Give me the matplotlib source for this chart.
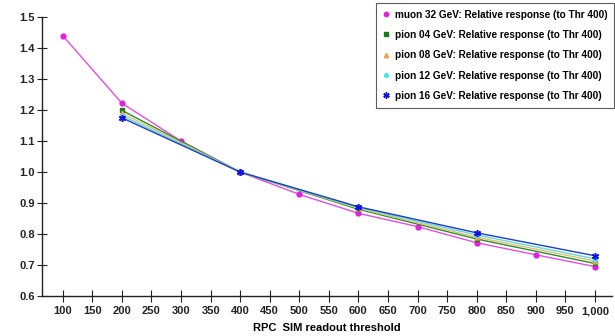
import matplotlib
matplotlib.use("Agg")
import matplotlib.pyplot as plt
from matplotlib.ticker import FuncFormatter, MultipleLocator

plt.rcParams['font.family'] = ['Liberation Sans', 'DejaVu Sans']
plt.rcParams['font.weight'] = 'bold'

muon_x = [100, 200, 300, 400, 500, 600, 700, 800, 900, 1000]
muon_y = [1.44, 1.222, 1.10, 1.0, 0.928, 0.867, 0.824, 0.772, 0.733, 0.695]
pion_x = [200, 400, 600, 800, 1000]
pion04_y = [1.199, 1.0, 0.880, 0.784, 0.705]
pion08_y = [1.190, 1.0, 0.883, 0.790, 0.713]
pion12_y = [1.182, 1.0, 0.886, 0.797, 0.720]
pion16_y = [1.175, 1.0, 0.888, 0.804, 0.730]

labels = ["muon 32 GeV: Relative response (to Thr 400)",
          "pion 04 GeV: Relative response (to Thr 400)",
          "pion 08 GeV: Relative response (to Thr 400)",
          "pion 12 GeV: Relative response (to Thr 400)",
          "pion 16 GeV: Relative response (to Thr 400)"]

fig = plt.figure(figsize=(6.15, 3.36), dpi=100)
ax = fig.add_axes([0.068, 0.119, 0.927, 0.830])

ax.plot(muon_x, muon_y, color='#e050e0', marker='o', ms=3.5, lw=1.0,
        markerfacecolor='#e020e0', markeredgecolor='#e020e0', label=labels[0])
ax.plot(pion_x, pion04_y, color='#2e8b2e', marker='s', ms=3.5, lw=1.0,
        markerfacecolor='#1a7a1a', markeredgecolor='#1a7a1a', label=labels[1])
ax.plot(pion_x, pion08_y, color='#e0c070', marker='^', ms=3.5, lw=1.0,
        markerfacecolor='#f0a050', markeredgecolor='#f0a050', label=labels[2])
ax.plot(pion_x, pion12_y, color='#60d8e8', marker='o', ms=3, lw=1.0,
        markerfacecolor='#40e8f0', markeredgecolor='#40e8f0', label=labels[3])
ax.plot(pion_x, pion16_y, color='#2040c0', marker=(6, 2, 0), ms=5, lw=1.0,
        markeredgecolor='#1010e0', markeredgewidth=1.1, label=labels[4])

ax.set_xlim(64.5, 1028.8)
ax.set_ylim(0.6, 1.5)
ax.set_xticks(range(100, 1001, 50))
ax.yaxis.set_major_locator(MultipleLocator(0.1))
ax.xaxis.set_major_formatter(FuncFormatter(lambda v, p: f"{int(v):,}"))
ax.yaxis.set_major_formatter(FuncFormatter(lambda v, p: f"{v:.1f}"))

for s in ['top', 'right']:
    ax.spines[s].set_visible(False)
for s in ['left', 'bottom']:
    ax.spines[s].set_linewidth(1.0)
    ax.spines[s].set_color('#222222')
ax.tick_params(axis='both', direction='inout', length=7, width=0.8,
               labelsize=8, colors='#222222', pad=1.5)
ax.tick_params(axis='x', length=9, pad=3)

ax.set_xlabel("RPC  SIM readout threshold", fontsize=8, fontweight='bold',
              labelpad=5)

leg = ax.legend(loc='upper right', bbox_to_anchor=(1.013, 1.07), fontsize=7.2,
                frameon=True, fancybox=False, edgecolor='#333333',
                handlelength=0.6, handletextpad=0.6, labelspacing=1.03,
                borderpad=0.7, borderaxespad=0.5, markerscale=0.9)
leg.get_frame().set_linewidth(0.8)
for h in leg.get_lines():
    h.set_linestyle('none')

fig.savefig("out.png", dpi=100)
